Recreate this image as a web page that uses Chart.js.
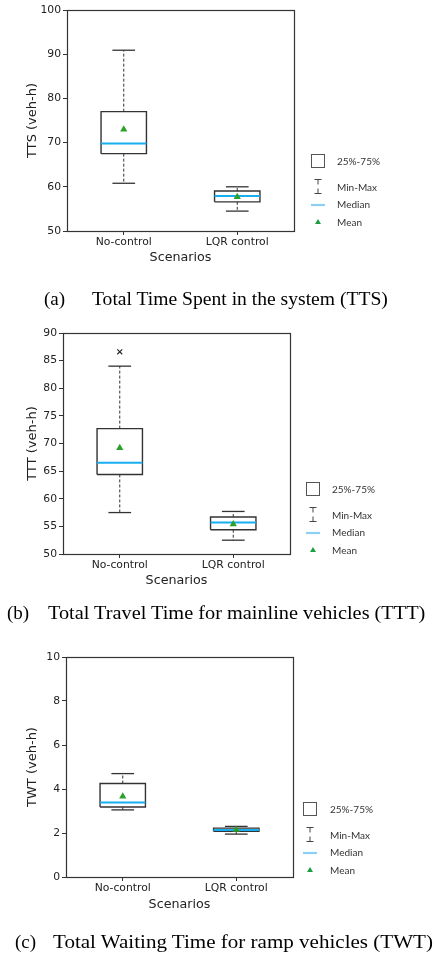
<!DOCTYPE html>
<html>
<head>
<meta charset="utf-8">
<script src="https://cdn.jsdelivr.net/npm/chart.js@4.4.1/dist/chart.umd.min.js"></script>
<style>
    body { margin: 0; background: #fff; }
    #page { position: relative; width: 435px; height: 958px; overflow: hidden; }
    canvas { position: absolute; left: 0; }
    #icons { position: absolute; left: 0; top: 0; }
    .caption { position: absolute; font-family: "Liberation Serif", "Times New Roman", serif; font-size: 19px; line-height: 19px; color: #000; white-space: nowrap; transform-origin: 0 50%; }
    .legend-text { position: absolute; font-family: Lato, sans-serif; font-size: 10px; line-height: 12px; color: #333; white-space: nowrap; }
</style>
</head>
<body>
<div id="page">
    <canvas id="ttsChart"></canvas>
    <canvas id="tttChart"></canvas>
    <canvas id="twtChart"></canvas>
    <svg id="icons" width="435" height="958"></svg>
</div>
<script>
// Box plot statistics
const scenarios = ['No-control', 'LQR control'];

const ttsMin = [60.8, 54.5];
const ttsQ1 = [67.5, 56.6];
const ttsMedian = [69.8, 57.9];
const ttsQ3 = [77.0, 59.05];
const ttsMax = [90.9, 60.0];
const ttsMean = [73.0, 57.7];
const ttsOutliers = [[], []];
const ttsTicks = [50, 60, 70, 80, 90, 100];

const tttMin = [57.5, 52.5];
const tttQ1 = [64.4, 54.4];
const tttMedian = [66.5, 55.7];
const tttQ3 = [72.7, 56.7];
const tttMax = [84.0, 57.7];
const tttMean = [69.2, 55.4];
const tttOutliers = [[86.6], []];
const tttTicks = [50, 55, 60, 65, 70, 75, 80, 85, 90];

const twtMin = [3.05, 1.95];
const twtQ1 = [3.18, 2.08];
const twtMedian = [3.39, 2.14];
const twtQ3 = [4.25, 2.22];
const twtMax = [4.7, 2.3];
const twtMean = [3.66, 2.15];
const twtOutliers = [[], []];
const twtTicks = [0, 2, 4, 6, 8, 10];

const legendLabels = ['25%-75%', 'Min-Max', 'Median', 'Mean'];

const frameColor = '#333';
const medianColor = '#17aef0';
const meanColor = '#2ca02c';
const BOX_HALF = 0.2;
const CAP_HALF = 0.1;
const tickFont = { family: 'DejaVu Sans', size: 10.8 };
const xTitleFont = { family: 'DejaVu Sans', size: 12.7 };
const yTitleFont = { family: 'DejaVu Sans', size: 13 };

function seg(pts, color, width, dash, order) {
    return {
        data: pts.map(p => ({ x: p[0], y: p[1] })),
        showLine: true,
        borderColor: color,
        borderWidth: width,
        borderDash: dash,
        pointRadius: 0,
        pointHoverRadius: 0,
        fill: false,
        tension: 0,
        order: order
    };
}

function boxDatasets(min, q1, median, q3, max, mean, outliers) {
    const ds = [];
    scenarios.forEach((name, i) => {
        const x = i + 1;
        ds.push({
            data: [{ x: x, y: mean[i] }],
            pointStyle: 'triangle', pointRadius: 4.2,
            backgroundColor: meanColor, borderColor: meanColor, borderWidth: 0,
            order: 0
        });
        ds.push({
            data: outliers[i].map(v => ({ x: x, y: v })),
            pointStyle: 'crossRot', pointRadius: 3.5,
            borderColor: '#222', borderWidth: 1.1,
            order: 0
        });
        ds.push(seg([[x - BOX_HALF, median[i]], [x + BOX_HALF, median[i]]], medianColor, 2, [], 1));
        ds.push(seg([[x - BOX_HALF, q1[i]], [x + BOX_HALF, q1[i]], [x + BOX_HALF, q3[i]],
            [x - BOX_HALF, q3[i]], [x - BOX_HALF, q1[i]]], frameColor, 1.4, [], 2));
        ds.push(seg([[x, q3[i]], [x, max[i]]], frameColor, 1, [3, 2], 3));
        ds.push(seg([[x, q1[i]], [x, min[i]]], frameColor, 1, [3, 2], 3));
        ds.push(seg([[x - CAP_HALF, max[i]], [x + CAP_HALF, max[i]]], frameColor, 1.3, [], 3));
        ds.push(seg([[x - CAP_HALF, min[i]], [x + CAP_HALF, min[i]]], frameColor, 1.3, [], 3));
    });
    return ds;
}

// Draw the full axes frame
const framePlugin = {
    id: 'frame',
    afterDatasetsDraw(chart) {
        const { ctx, chartArea: a } = chart;
        ctx.save();
        ctx.strokeStyle = frameColor;
        ctx.lineWidth = 1.2;
        ctx.strokeRect(Math.round(a.left) + 0.5, Math.round(a.top) + 0.5,
            Math.round(a.right - a.left), Math.round(a.bottom - a.top));
        ctx.restore();
    }
};

function makeChart(id, area, yTicks, yTitle, datasets) {
    const W = 300, H = 270;
    const canvas = document.getElementById(id);
    canvas.width = W;
    canvas.height = H;
    canvas.style.top = (area.top - 10) + 'px';

    return new Chart(canvas, {
        type: 'scatter',
        data: { datasets: datasets },
        options: {
            responsive: false,
            animation: false,
            events: [],
            layout: { padding: { left: 0, top: 10, right: W - area.right, bottom: 0 } },
            plugins: {
                legend: { display: false },
                tooltip: { enabled: false }
            },
            scales: {
                x: {
                    type: 'linear',
                    min: 0.5,
                    max: 2.5,
                    afterBuildTicks: s => { s.ticks = scenarios.map((n, i) => ({ value: i + 1 })); },
                    afterFit: s => { s.height = H - 10 - (area.bottom - area.top); },
                    ticks: {
                        callback: v => scenarios[v - 1],
                        font: tickFont, color: '#222', padding: 1,
                        maxRotation: 0, autoSkip: false
                    },
                    grid: { drawOnChartArea: false, drawTicks: true, tickLength: 4, color: frameColor },
                    border: { display: false },
                    title: { display: true, text: 'Scenarios', font: xTitleFont, color: '#222', padding: { top: 0, bottom: 5 } }
                },
                y: {
                    min: yTicks[0],
                    max: yTicks[yTicks.length - 1],
                    afterBuildTicks: s => { s.ticks = yTicks.map(v => ({ value: v })); },
                    afterFit: s => { s.width = area.left; },
                    ticks: { font: tickFont, color: '#222', padding: 2 },
                    grid: { drawOnChartArea: false, drawTicks: true, tickLength: 4, color: frameColor },
                    border: { display: false },
                    title: { display: true, text: yTitle, font: yTitleFont, color: '#222', padding: { top: 25, bottom: 0 } }
                }
            }
        },
        plugins: [framePlugin]
    });
}

makeChart('ttsChart', { left: 67, top: 10, right: 294, bottom: 231 }, ttsTicks, 'TTS (veh-h)',
    boxDatasets(ttsMin, ttsQ1, ttsMedian, ttsQ3, ttsMax, ttsMean, ttsOutliers));
makeChart('tttChart', { left: 63, top: 333, right: 290, bottom: 554 }, tttTicks, 'TTT (veh-h)',
    boxDatasets(tttMin, tttQ1, tttMedian, tttQ3, tttMax, tttMean, tttOutliers));
makeChart('twtChart', { left: 66, top: 657, right: 293, bottom: 877 }, twtTicks, 'TWT (veh-h)',
    boxDatasets(twtMin, twtQ1, twtMedian, twtQ3, twtMax, twtMean, twtOutliers));

// Legends beside each panel
const page = document.getElementById('page');
const svg = document.getElementById('icons');
const NS = 'http://www.w3.org/2000/svg';

function svgEl(tag, attrs) {
    const el = document.createElementNS(NS, tag);
    for (const k in attrs) el.setAttribute(k, attrs[k]);
    svg.appendChild(el);
}

function addLegend(iconX, textX, dy) {
    const rows = [161, 187, 204, 222].map(y => y + dy);
    legendLabels.forEach((label, i) => {
        const div = document.createElement('div');
        div.className = 'legend-text';
        div.textContent = label;
        div.style.left = textX + 'px';
        div.style.top = (rows[i] - 6) + 'px';
        page.appendChild(div);
    });
    svgEl('rect', { x: iconX - 6.5, y: rows[0] - 6.5, width: 13, height: 13, fill: 'none', stroke: '#555', 'stroke-width': 1 });
    const y = rows[1];
    svgEl('path', {
        d: `M${iconX - 3.5} ${y - 7.5}h7M${iconX} ${y - 7.5}v5M${iconX} ${y + 1.5}v5M${iconX - 3.5} ${y + 6.5}h7`,
        stroke: '#444', 'stroke-width': 1, fill: 'none'
    });
    svgEl('line', { x1: iconX - 7, y1: rows[2] + 1, x2: iconX + 7, y2: rows[2] + 1, stroke: '#8ccff4', 'stroke-width': 2.2 });
    const m = rows[3];
    svgEl('polygon', { points: `${iconX},${m - 3} ${iconX - 3},${m + 2} ${iconX + 3},${m + 2}`, fill: '#1e9e40' });
}

addLegend(318, 337, 0);
addLegend(313, 332, 328);
addLegend(310, 330, 648);

// Figure captions; the body text is stretched to end where the original does
function addCaption(tag, text, tagX, textX, endX, cy) {
    const label = document.createElement('div');
    label.className = 'caption';
    label.textContent = tag;
    label.style.left = tagX + 'px';
    label.style.top = (cy - 9.5) + 'px';
    page.appendChild(label);

    const body = document.createElement('div');
    body.className = 'caption';
    body.textContent = text;
    body.style.left = textX + 'px';
    body.style.top = (cy - 9.5) + 'px';
    page.appendChild(body);
    body.style.transform = `scaleX(${(endX - textX) / body.offsetWidth})`;
}

addCaption('(a)', 'Total Time Spent in the system (TTS)', 44, 92, 388, 298);
addCaption('(b)', 'Total Travel Time for mainline vehicles (TTT)', 7, 48, 425, 612);
addCaption('(c)', 'Total Waiting Time for ramp vehicles (TWT)', 15, 53, 433, 941);
</script>
</body>
</html>
